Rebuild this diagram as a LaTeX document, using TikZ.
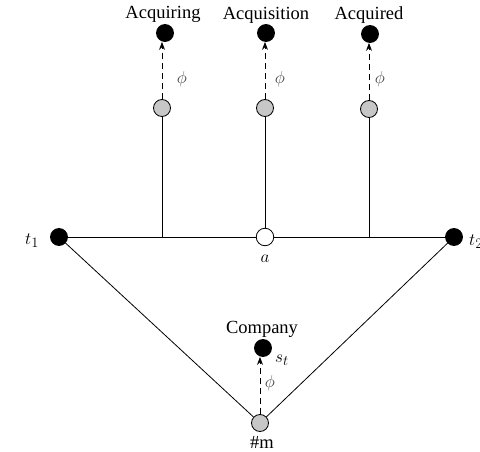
\documentclass[tikz,border=0pt]{standalone}
\usepackage{fontspec}
\setmainfont{Liberation Serif}
\usetikzlibrary{arrows.meta}
\begin{document}
\begin{tikzpicture}[x=1pt,y=-1pt,
  blk/.style={circle,draw=black,fill=black,minimum size=17pt,inner sep=0pt,line width=0.8pt},
  gry/.style={circle,draw=black,fill=black!22,minimum size=17pt,inner sep=0pt,line width=0.8pt},
  wht/.style={circle,draw=black,fill=white,minimum size=17.5pt,inner sep=0pt,line width=0.8pt},
  edge/.style={line width=0.8pt},
  phiarrow/.style={dashed,dash pattern=on 6pt off 4pt,line width=0.9pt,-{Stealth[length=8pt,width=6pt]}},
  lbl/.style={font=\fontsize{18.5}{20}\selectfont,inner sep=0pt},
  mlbl/.style={font=\fontsize{19}{21}\selectfont,inner sep=0pt}]
\useasboundingbox (0,0) rectangle (480,452);
% main nodes
\node[blk] (t1) at (59,237) {};
\node[blk] (t2) at (454,237) {};
\node[wht] (a) at (265,237) {};
\node[gry] (m) at (260,423) {};
\coordinate (j1) at (162,237);
\coordinate (j3) at (369,237);
% top gray nodes
\node[gry] (g1) at (162,108) {};
\node[gry] (g2) at (265,108) {};
\node[gry] (g3) at (369,109) {};
% top black nodes
\node[blk] (b1) at (165,33) {};
\node[blk] (b2) at (266,33) {};
\node[blk] (b3) at (370,34) {};
\node[blk] (c) at (263,348) {};
% edges
\draw[edge] (t1) -- (a) -- (t2);
\draw[edge] (t1) -- (m) -- (t2);
\draw[edge] (j1) -- (g1);
\draw[edge] (a) -- (g2);
\draw[edge] (j3) -- (g3);
\draw[phiarrow] (g1.north) -- (g1.north |- b1.south);
\draw[phiarrow] (g2.north) -- (g2.north |- b2.south);
\draw[phiarrow] (g3.north) -- (g3.north |- b3.south);
\draw[phiarrow] (m.north) -- (m.north |- c.south);
% labels
\node[lbl] (l1) at (163,14) {Acquiring};
\node[lbl] (l2) at (266,15) {Acquisition};
\node[lbl] (l3) at (369,15) {Acquired};
\node[lbl] (l4) at (262,329) {Company};
\node[lbl] (l5) at (262,442) {\#m};
\node[mlbl,text=black!75] (p1) at (182,79) {$\phi$};
\node[mlbl,text=black!75] (p2) at (280,79) {$\phi$};
\node[mlbl,text=black!75] (p3) at (380,79) {$\phi$};
\node[mlbl,text=black!75] (p4) at (270,383) {$\phi$};
\node[mlbl] (st) at (282,360) {$s_t$};
\node[mlbl] (tl1) at (32,241) {$t_1$};
\node[mlbl] (tl2) at (476,242) {$t_2$};
\node[mlbl] (al) at (265,259) {$a$};
\end{tikzpicture}
\end{document}
